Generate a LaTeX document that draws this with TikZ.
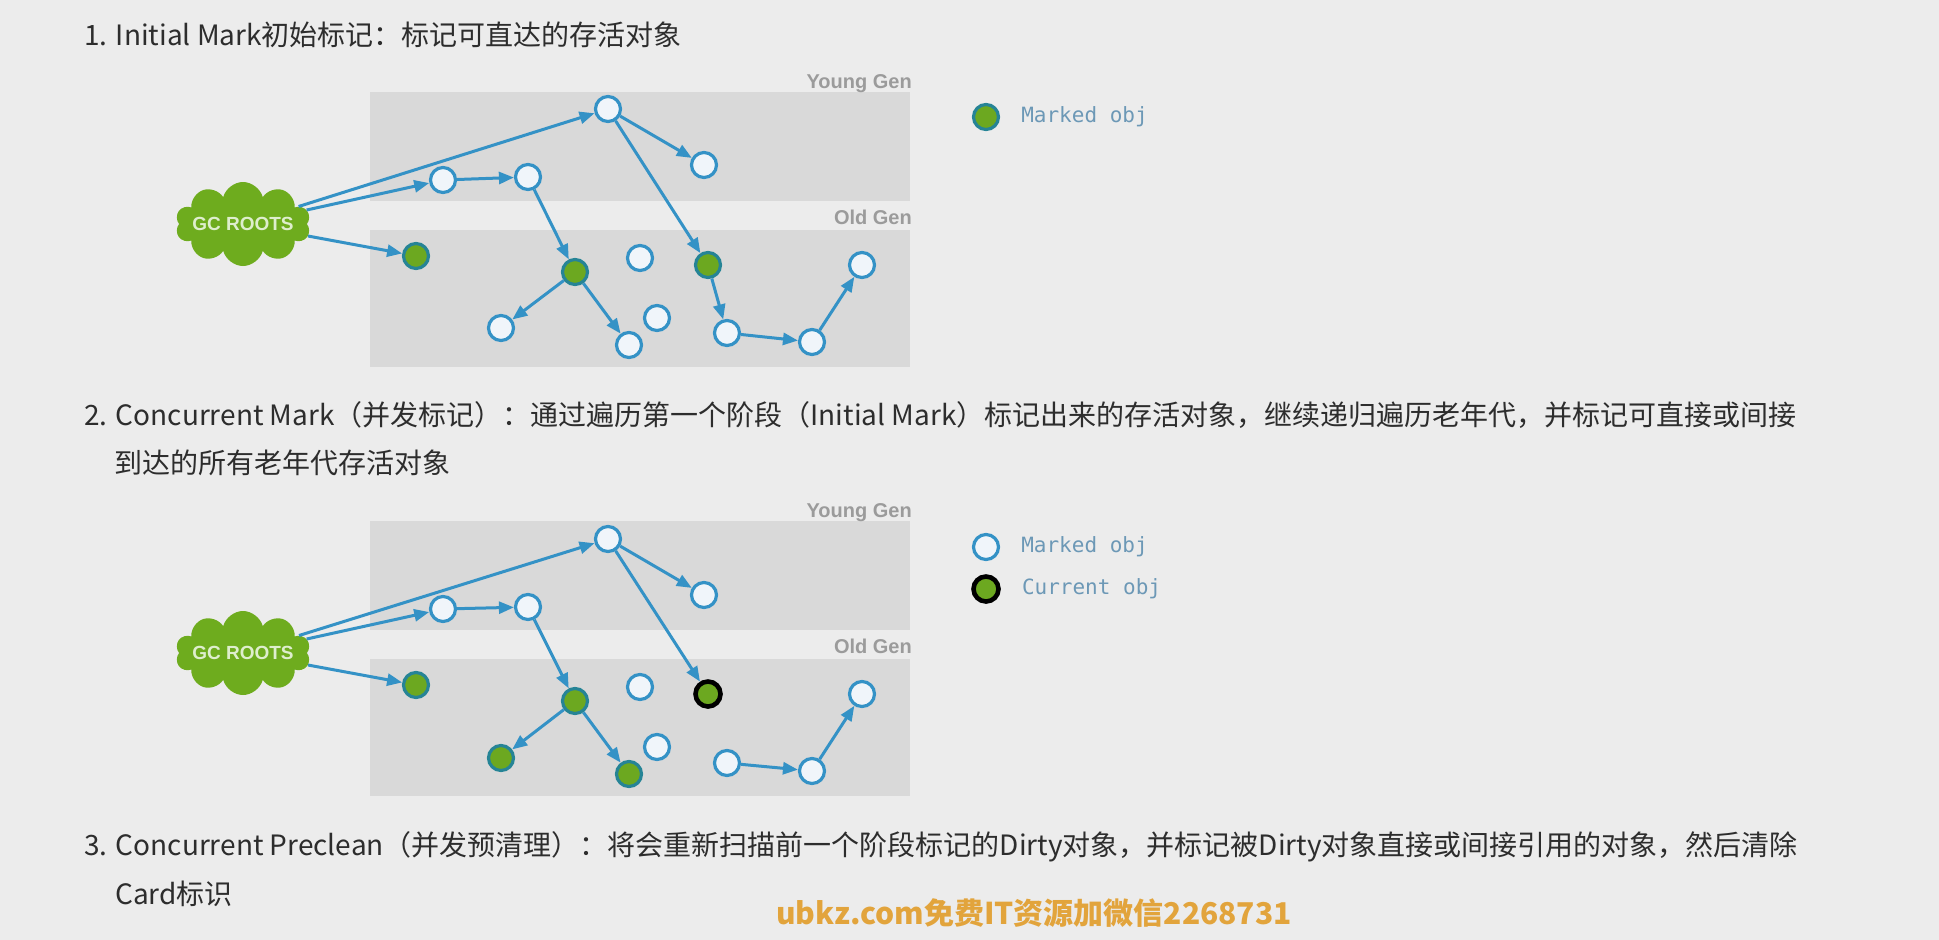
\documentclass[tikz,border=0pt]{standalone}
\usepackage{fontspec}
\setmainfont{Noto Sans CJK SC}
\newfontfamily\genfont{Liberation Sans}
\newfontfamily\keyfont{DejaVu Sans Mono}
\usetikzlibrary{arrows.meta, positioning, shapes.symbols}
\definecolor{pagebg}{RGB}{236,236,236}
\definecolor{genfill}{RGB}{217,217,217}
\definecolor{gentext}{RGB}{155,155,155}
\definecolor{refblue}{RGB}{52,146,198}
\definecolor{objfill}{RGB}{240,245,250}
\definecolor{markgreen}{RGB}{108,168,32}
\definecolor{markteal}{RGB}{38,132,150}
\definecolor{rootgreen}{RGB}{110,172,30}
\definecolor{roottext}{RGB}{222,238,205}
\definecolor{keytext}{RGB}{108,152,182}
\definecolor{titletext}{RGB}{45,45,45}
\definecolor{wmgold}{RGB}{226,164,60}

\tikzset{
  obj/.style={circle, draw=refblue, line width=3.2pt, fill=objfill,
              minimum size=25pt, inner sep=0pt},
  marked/.style={obj, draw=markteal, fill=markgreen},
  current/.style={obj, draw=black, line width=4.6pt, fill=markgreen},
  ref/.style={draw=refblue, line width=3pt, -{Triangle[length=15pt,width=12pt]}},
  genbox/.style={fill=genfill},
  genlabel/.style={anchor=base east, inner sep=0pt, text=gentext,
                   font=\genfont\bfseries\fontsize{20}{24}\selectfont},
  roots/.style={cloud, cloud puffs=10, fill=rootgreen, inner sep=0pt,
                minimum width=135pt, minimum height=84pt,
                label={[text=roottext, inner sep=0pt,
                        font=\genfont\bfseries\fontsize{19}{22}\selectfont]center:GC ROOTS}},
  phase/.style={anchor=west, inner sep=0pt, text=titletext,
                font=\fontsize{28}{34}\selectfont},
  keylabel/.style={anchor=west, inner sep=0pt, text=keytext,
                   font=\keyfont\fontsize{21}{25}\selectfont},
}

\begin{document}
\begin{tikzpicture}[x=1pt, y=-1pt]
  \fill[pagebg] (0,0) rectangle (1939,940);
  \useasboundingbox (0,0) rectangle (1939,940);

  % Phase 1: initial mark
  \node[phase] (phase1) at (84,35) {1. Initial Mark初始标记：标记可直达的存活对象};
  \fill[genbox] (370,92) rectangle (910,201);
  \fill[genbox] (370,230) rectangle (910,367);
  \node[genlabel] (young1) at (912,88) {Young Gen};
  \node[genlabel] (old1) at (912,224) {Old Gen};
  \node[roots] (root1) at (243,224) {};
  \foreach \n/\x/\y in {y1/608/109, y2/704/165, y3/443/180, y4/528/177,
                        o3/640/258, o5/862/265, o6/501/328, o7/629/345,
                        o8/657/318, o9/727/333, o10/812/342}
    \node[obj] (a\n) at (\x,\y) {};
  \foreach \n/\x/\y in {o1/416/256, o2/575/272, o4/708/265}
    \node[marked] (a\n) at (\x,\y) {};
  \foreach \s/\t in {root1/ay1, root1/ay3, root1/ao1, ay3/ay4, ay4/ao2, ay1/ay2,
                     ay1/ao4, ao2/ao6, ao2/ao7, ao4/ao9, ao9/ao10, ao10/ao5}
    \draw[ref] (\s) -- (\t);
  \node[marked] (key1) at (986,117) {};
  \node[keylabel, right=21pt of key1] (key1txt) {Marked obj};

  % Phase 2: concurrent mark
  \node[phase] (phase2a) at (84,415) {2. Concurrent Mark（并发标记）：通过遍历第一个阶段（Initial Mark）标记出来的存活对象，继续递归遍历老年代，并标记可直接或间接};
  \node[phase] (phase2b) at (114,463) {到达的所有老年代存活对象};
  \fill[genbox] (370,521) rectangle (910,630);
  \fill[genbox] (370,659) rectangle (910,796);
  \node[genlabel] (young2) at (912,517) {Young Gen};
  \node[genlabel] (old2) at (912,653) {Old Gen};
  \node[roots] (root2) at (243,653) {};
  \foreach \n/\x/\y in {y1/608/539, y2/704/595, y3/443/609, y4/528/607,
                        o3/640/687, o5/862/694, o8/657/747, o9/727/763,
                        o10/812/771}
    \node[obj] (b\n) at (\x,\y) {};
  \foreach \n/\x/\y in {o1/416/685, o2/575/701, o6/501/758, o7/629/774}
    \node[marked] (b\n) at (\x,\y) {};
  \node[current] (bo4) at (708,694) {};
  \foreach \s/\t in {root2/by1, root2/by3, root2/bo1, by3/by4, by4/bo2, by1/by2,
                     by1/bo4, bo2/bo6, bo2/bo7, bo9/bo10, bo10/bo5}
    \draw[ref] (\s) -- (\t);
  \node[obj] (key2) at (986,547) {};
  \node[keylabel, right=21pt of key2] (key2txt) {Marked obj};
  \node[current] (key3) at (986,589) {};
  \node[keylabel, right=21pt of key3] (key3txt) {Current obj};

  % Phase 3: concurrent preclean
  \node[phase] (phase3a) at (84,847) {3. Concurrent Preclean（并发预清理）：将会重新扫描前一个阶段标记的Dirty对象，并标记被Dirty对象直接或间接引用的对象，然后清除};
  \node[phase] (phase3b) at (115,894) {Card标识};
  \node[text=wmgold, font=\bfseries\fontsize{30}{36}\selectfont] (mark) at (1034,913) {ubkz.com免费IT资源加微信2268731};
\end{tikzpicture}
\end{document}
